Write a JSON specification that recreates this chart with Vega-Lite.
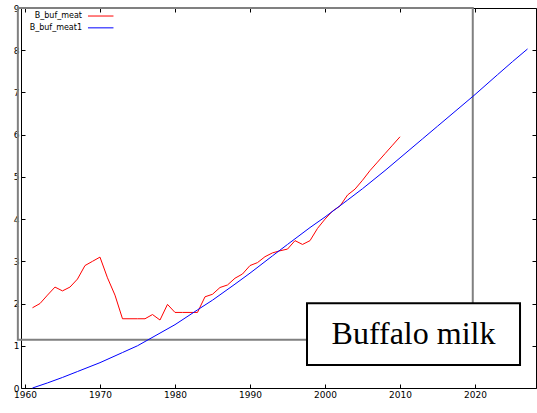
{
  "$schema": "https://vega.github.io/schema/vega-lite/v6.json",
  "width": 515,
  "height": 380,
  "autosize": {"type": "none"},
  "padding": {"left": 21, "top": 8, "right": 1, "bottom": 25},
  "background": "white",
  "config": {
    "view": {"stroke": "black", "strokeWidth": 1},
    "axis": {"labelFont": "DejaVu Sans", "labelFontSize": 9, "labelColor": "#000", "domain": false, "grid": false, "tickColor": "#000", "title": null}
  },
  "datasets": {
    "series": [
      {"year": 1961, "value": 1.90, "series": "B_buf_meat"},
      {"year": 1962, "value": 2.00, "series": "B_buf_meat"},
      {"year": 1963, "value": 2.20, "series": "B_buf_meat"},
      {"year": 1964, "value": 2.39, "series": "B_buf_meat"},
      {"year": 1965, "value": 2.30, "series": "B_buf_meat"},
      {"year": 1966, "value": 2.39, "series": "B_buf_meat"},
      {"year": 1967, "value": 2.58, "series": "B_buf_meat"},
      {"year": 1968, "value": 2.90, "series": "B_buf_meat"},
      {"year": 1969, "value": 3.00, "series": "B_buf_meat"},
      {"year": 1970, "value": 3.10, "series": "B_buf_meat"},
      {"year": 1971, "value": 2.61, "series": "B_buf_meat"},
      {"year": 1972, "value": 2.20, "series": "B_buf_meat"},
      {"year": 1973, "value": 1.64, "series": "B_buf_meat"},
      {"year": 1974, "value": 1.64, "series": "B_buf_meat"},
      {"year": 1975, "value": 1.64, "series": "B_buf_meat"},
      {"year": 1976, "value": 1.64, "series": "B_buf_meat"},
      {"year": 1977, "value": 1.74, "series": "B_buf_meat"},
      {"year": 1978, "value": 1.61, "series": "B_buf_meat"},
      {"year": 1979, "value": 1.98, "series": "B_buf_meat"},
      {"year": 1980, "value": 1.79, "series": "B_buf_meat"},
      {"year": 1981, "value": 1.79, "series": "B_buf_meat"},
      {"year": 1982, "value": 1.79, "series": "B_buf_meat"},
      {"year": 1983, "value": 1.79, "series": "B_buf_meat"},
      {"year": 1984, "value": 2.16, "series": "B_buf_meat"},
      {"year": 1985, "value": 2.22, "series": "B_buf_meat"},
      {"year": 1986, "value": 2.38, "series": "B_buf_meat"},
      {"year": 1987, "value": 2.44, "series": "B_buf_meat"},
      {"year": 1988, "value": 2.60, "series": "B_buf_meat"},
      {"year": 1989, "value": 2.70, "series": "B_buf_meat"},
      {"year": 1990, "value": 2.90, "series": "B_buf_meat"},
      {"year": 1991, "value": 2.97, "series": "B_buf_meat"},
      {"year": 1992, "value": 3.11, "series": "B_buf_meat"},
      {"year": 1993, "value": 3.20, "series": "B_buf_meat"},
      {"year": 1994, "value": 3.25, "series": "B_buf_meat"},
      {"year": 1995, "value": 3.29, "series": "B_buf_meat"},
      {"year": 1996, "value": 3.49, "series": "B_buf_meat"},
      {"year": 1997, "value": 3.40, "series": "B_buf_meat"},
      {"year": 1998, "value": 3.49, "series": "B_buf_meat"},
      {"year": 1999, "value": 3.78, "series": "B_buf_meat"},
      {"year": 2000, "value": 4.00, "series": "B_buf_meat"},
      {"year": 2001, "value": 4.19, "series": "B_buf_meat"},
      {"year": 2002, "value": 4.31, "series": "B_buf_meat"},
      {"year": 2003, "value": 4.57, "series": "B_buf_meat"},
      {"year": 2004, "value": 4.71, "series": "B_buf_meat"},
      {"year": 2005, "value": 4.92, "series": "B_buf_meat"},
      {"year": 2006, "value": 5.15, "series": "B_buf_meat"},
      {"year": 2007, "value": 5.35, "series": "B_buf_meat"},
      {"year": 2008, "value": 5.55, "series": "B_buf_meat"},
      {"year": 2009, "value": 5.75, "series": "B_buf_meat"},
      {"year": 2010, "value": 5.95, "series": "B_buf_meat"},
      {"year": 1961, "value": 0.00, "series": "B_buf_meat1"},
      {"year": 1963, "value": 0.12, "series": "B_buf_meat1"},
      {"year": 1965, "value": 0.25, "series": "B_buf_meat1"},
      {"year": 1967, "value": 0.39, "series": "B_buf_meat1"},
      {"year": 1970, "value": 0.60, "series": "B_buf_meat1"},
      {"year": 1973, "value": 0.84, "series": "B_buf_meat1"},
      {"year": 1975, "value": 1.00, "series": "B_buf_meat1"},
      {"year": 1978, "value": 1.30, "series": "B_buf_meat1"},
      {"year": 1980, "value": 1.50, "series": "B_buf_meat1"},
      {"year": 1983, "value": 1.85, "series": "B_buf_meat1"},
      {"year": 1985, "value": 2.08, "series": "B_buf_meat1"},
      {"year": 1988, "value": 2.46, "series": "B_buf_meat1"},
      {"year": 1990, "value": 2.72, "series": "B_buf_meat1"},
      {"year": 1993, "value": 3.13, "series": "B_buf_meat1"},
      {"year": 1995, "value": 3.40, "series": "B_buf_meat1"},
      {"year": 1998, "value": 3.80, "series": "B_buf_meat1"},
      {"year": 2000, "value": 4.05, "series": "B_buf_meat1"},
      {"year": 2003, "value": 4.45, "series": "B_buf_meat1"},
      {"year": 2005, "value": 4.72, "series": "B_buf_meat1"},
      {"year": 2008, "value": 5.15, "series": "B_buf_meat1"},
      {"year": 2010, "value": 5.45, "series": "B_buf_meat1"},
      {"year": 2013, "value": 5.90, "series": "B_buf_meat1"},
      {"year": 2015, "value": 6.20, "series": "B_buf_meat1"},
      {"year": 2018, "value": 6.65, "series": "B_buf_meat1"},
      {"year": 2020, "value": 6.95, "series": "B_buf_meat1"},
      {"year": 2023, "value": 7.42, "series": "B_buf_meat1"},
      {"year": 2025, "value": 7.73, "series": "B_buf_meat1"},
      {"year": 2027, "value": 8.03, "series": "B_buf_meat1"}
    ],
    "legend": [
      {"series": "B_buf_meat", "row": 8.81},
      {"series": "B_buf_meat1", "row": 8.53}
    ]
  },
  "resolve": {"axis": {"x": "independent", "y": "independent"}, "scale": {"x": "shared", "y": "shared", "color": "shared"}},
  "layer": [
    {
      "data": {"values": [{}]},
      "mark": {"type": "rect", "fillOpacity": 0, "stroke": "#808080", "strokeWidth": 2, "clip": false},
      "encoding": {
        "x": {"datum": 1959.05, "type": "quantitative", "axis": null},
        "x2": {"datum": 2019.7},
        "y": {"datum": 1.14, "type": "quantitative", "axis": null},
        "y2": {"datum": 9}
      }
    },
    {
      "data": {"name": "series"},
      "mark": {"type": "line", "strokeWidth": 1},
      "encoding": {
        "x": {"field": "year", "type": "quantitative",
              "scale": {"domain": [1959.47, 2028.13], "nice": false, "zero": false},
              "axis": {"orient": "bottom", "values": [1960, 1970, 1980, 1990, 2000, 2010, 2020], "format": "d", "tickSize": -4, "labelPadding": 6}},
        "y": {"field": "value", "type": "quantitative",
              "scale": {"domain": [0, 9], "nice": false, "zero": false},
              "axis": {"orient": "left", "values": [0, 1, 2, 3, 4, 5, 6, 7, 8, 9], "tickSize": -4, "labelPadding": 6}},
        "color": {"field": "series", "type": "nominal",
                  "scale": {"domain": ["B_buf_meat", "B_buf_meat1"], "range": ["#ff0000", "#0000ff"]},
                  "legend": null}
      }
    },
    {
      "data": {"name": "series"},
      "mark": {"type": "line", "opacity": 0},
      "encoding": {
        "x": {"field": "year", "type": "quantitative",
              "axis": {"orient": "top", "values": [1960, 1970, 1980, 1990, 2000, 2010, 2020], "labels": false, "tickSize": -4}},
        "y": {"field": "value", "type": "quantitative",
              "axis": {"orient": "right", "values": [0, 1, 2, 3, 4, 5, 6, 7, 8, 9], "labels": false, "tickSize": -4}},
        "detail": {"field": "series"}
      }
    },
    {
      "data": {"name": "legend"},
      "mark": {"type": "text", "font": "DejaVu Sans", "fontSize": 8, "color": "black", "align": "right", "baseline": "middle"},
      "encoding": {
        "x": {"datum": 1967.6, "type": "quantitative", "axis": null},
        "y": {"field": "row", "type": "quantitative", "axis": null},
        "text": {"field": "series"}
      }
    },
    {
      "data": {"name": "legend"},
      "mark": {"type": "rule", "strokeWidth": 1},
      "encoding": {
        "x": {"datum": 1968.4, "type": "quantitative", "axis": null},
        "x2": {"datum": 1971.8},
        "y": {"field": "row", "type": "quantitative", "axis": null},
        "color": {"field": "series", "type": "nominal", "legend": null}
      }
    },
    {
      "data": {"values": [{}]},
      "mark": {"type": "rect", "fill": "white", "stroke": "black", "strokeWidth": 2},
      "encoding": {
        "x": {"datum": 1997.6, "type": "quantitative", "axis": null},
        "x2": {"datum": 2026.0},
        "y": {"datum": 2.01, "type": "quantitative", "axis": null},
        "y2": {"datum": 0.545}
      }
    },
    {
      "data": {"values": [{}]},
      "mark": {"type": "text", "font": "Liberation Serif", "fontSize": 32, "color": "black", "align": "center", "baseline": "middle"},
      "encoding": {
        "x": {"datum": 2011.8, "type": "quantitative", "axis": null},
        "y": {"datum": 1.28, "type": "quantitative", "axis": null},
        "text": {"value": "Buffalo milk"}
      }
    }
  ]
}
